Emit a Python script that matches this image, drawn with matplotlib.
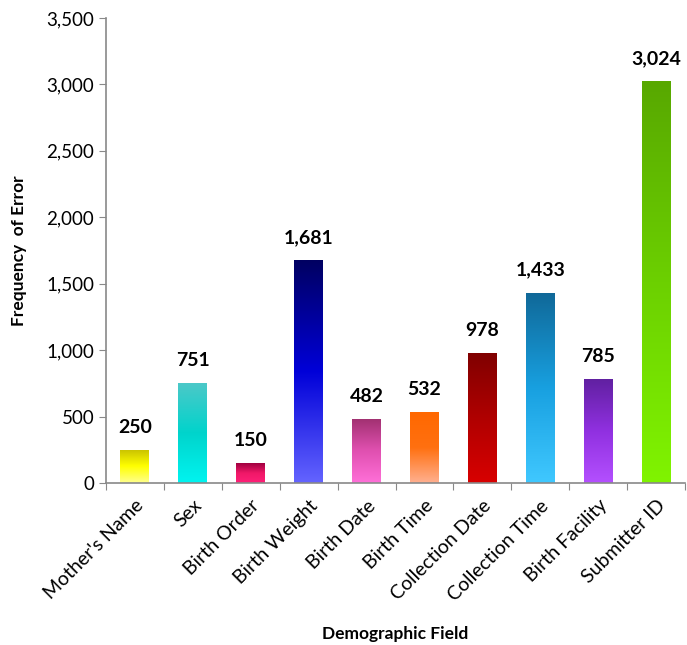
import numpy as np
import matplotlib
matplotlib.use("Agg")
from matplotlib import pyplot as plt
from matplotlib.colors import LinearSegmentedColormap
from matplotlib.ticker import FuncFormatter, MultipleLocator

plt.rcParams['font.family'] = ['Lato', 'DejaVu Sans']

# 数据
fields = ["Mother's Name", "Sex", "Birth Order", "Birth Weight", "Birth Date",
          "Birth Time", "Collection Date", "Collection Time", "Birth Facility", "Submitter ID"]
errors = [250, 751, 150, 1681, 482, 532, 978, 1433, 785, 3024]

# 每个柱子的渐变颜色（上 -> 中 -> 下）
grad_colors = [
    ["#c8c000", "#ffff00", "#ffff90"],
    ["#4cc8c8", "#00d4cc", "#00f4f0"],
    ["#a00040", "#f01868", "#ff2078"],
    ["#000060", "#0000d8", "#6464ff"],
    ["#a03070", "#e050b0", "#ff70d8"],
    ["#ff6800", "#ff7010", "#ffb090"],
    ["#800000", "#b00000", "#d80000"],
    ["#106898", "#18a0e0", "#40c8ff"],
    ["#6020a0", "#9030e0", "#b450ff"],
    ["#58a800", "#6cd000", "#80f400"],
]

fig = plt.figure(figsize=(6.87, 6.45), dpi=100)
ax = fig.add_axes([106 / 687, (645 - 483) / 645, (685 - 106) / 687, (483 - 18) / 645])

x = np.arange(len(fields))
width = 0.5
bars = ax.bar(x, errors, width=width, color="none", edgecolor="none", zorder=2)

grad = np.linspace(1, 0, 256).reshape(-1, 1)
for b, cols in zip(bars, grad_colors):
    cmap = LinearSegmentedColormap.from_list("g", cols[::-1])
    x0, y0 = b.get_x(), b.get_y()
    im = ax.imshow(grad, cmap=cmap, aspect="auto", vmin=0, vmax=1,
                   extent=[x0, x0 + b.get_width(), y0, y0 + b.get_height()],
                   origin="upper", zorder=2)
    im.set_clip_path(b)

for xi, v in zip(x, errors):
    ax.annotate("{:,}".format(v), (xi, v), xytext=(0, 10), textcoords="offset points",
                ha="center", va="bottom", fontsize=14, fontweight="bold")

ax.set_xlim(-0.5, len(fields) - 0.5)
ax.set_ylim(0, 3500)
ax.yaxis.set_major_locator(MultipleLocator(500))
ax.yaxis.set_major_formatter(FuncFormatter(lambda v, p: "{:,}".format(int(v))))

# x轴刻度线在类别之间，标签在类别中间
ax.set_xticks(np.arange(-0.5, len(fields), 1))
ax.set_xticklabels([])
ax.set_xticks(x, minor=True)
ax.set_xticklabels(fields, minor=True, rotation=45, ha="right", rotation_mode="anchor",
                   fontsize=14)
ax.tick_params(axis="x", which="minor", length=0, pad=10)
ax.tick_params(axis="x", which="major", length=5, color="#898989", direction="out")
ax.tick_params(axis="y", length=5, color="#898989", labelsize=13.5)

for s in ["top", "right"]:
    ax.spines[s].set_visible(False)
for s in ["left", "bottom"]:
    ax.spines[s].set_color("#898989")
    ax.spines[s].set_linewidth(1.2)

ax.set_ylabel("Frequency  of Error", fontsize=12.5, fontweight="bold", labelpad=14)
ax.set_xlabel("Demographic Field", fontsize=12.5, fontweight="bold", labelpad=16)

plt.savefig("out.png", dpi=100)
